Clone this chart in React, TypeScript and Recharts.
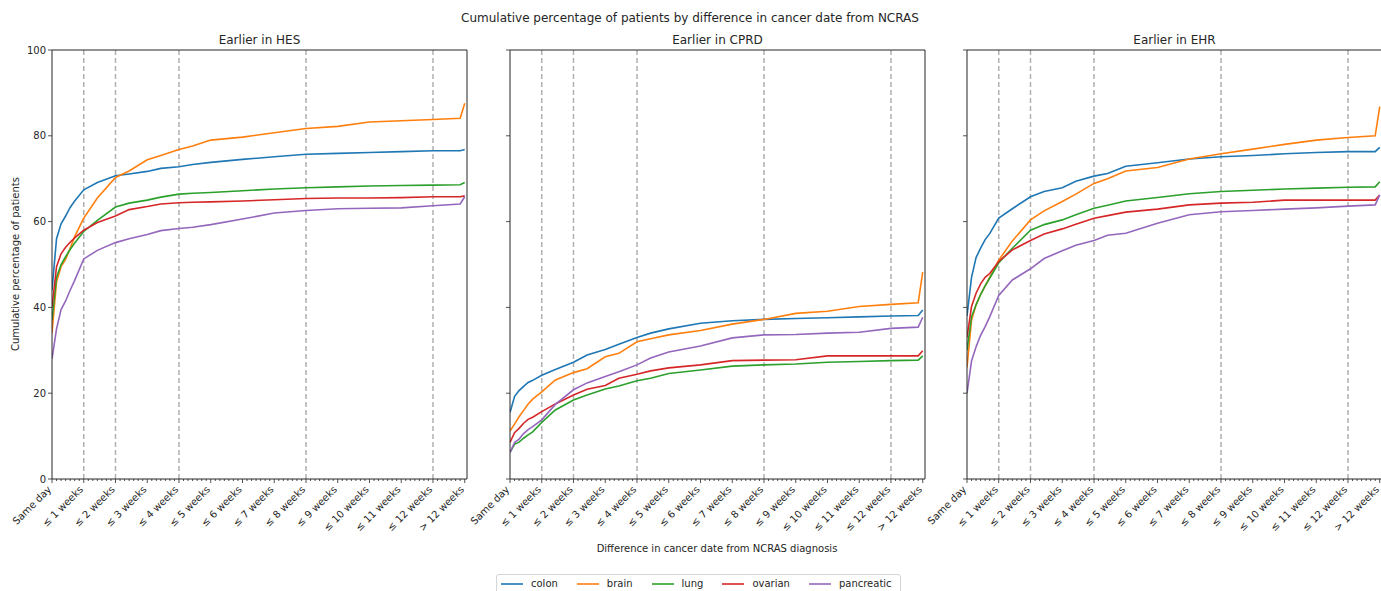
import React from 'react';
import { LineChart, Line, XAxis, YAxis, ReferenceLine } from 'recharts';

// days since NCRAS diagnosis at which the curves were read
const DAYS = [0, 1, 2, 3, 4, 5, 7, 10, 14, 17, 21, 24, 28, 31, 35, 42, 49, 56, 63, 70, 77, 84, 90, 91];

const WEEK_LABELS = [
  'Same day', '≤ 1 weeks', '≤ 2 weeks', '≤ 3 weeks', '≤ 4 weeks', '≤ 5 weeks', '≤ 6 weeks',
  '≤ 7 weeks', '≤ 8 weeks', '≤ 9 weeks', '≤ 10 weeks', '≤ 11 weeks', '≤ 12 weeks', '> 12 weeks',
];
const DASHED_DAYS = [7, 14, 28, 56, 84];
const Y_TICKS = [0, 20, 40, 60, 80, 100];
const PANEL_TITLES = ['Earlier in HES', 'Earlier in CPRD', 'Earlier in EHR'];

const CANCERS = ['colon', 'brain', 'lung', 'ovarian', 'pancreatic'];
const COLORS = ['#1f77b4', '#ff7f0e', '#2ca02c', '#d62728', '#9467bd'];

// Earlier in HES
const hesColon = [44, 56, 59.5, 61.3, 63.3, 64.8, 67.4, 69.1, 70.7, 71.1, 71.7, 72.4, 72.8, 73.3, 73.8, 74.5, 75.1, 75.7, 75.9, 76.1, 76.3, 76.5, 76.5, 76.8];
const hesBrain = [34, 46, 49.5, 51.2, 53.8, 56.5, 60.8, 65.5, 70.3, 71.8, 74.4, 75.4, 76.8, 77.6, 79.0, 79.7, 80.7, 81.7, 82.2, 83.2, 83.5, 83.8, 84.1, 87.6];
const hesLung = [37, 47, 50, 51.8, 53.5, 55, 57.7, 60.3, 63.4, 64.3, 65, 65.7, 66.4, 66.6, 66.8, 67.2, 67.6, 67.9, 68.1, 68.3, 68.4, 68.5, 68.6, 69.1];
const hesOvarian = [40, 49.5, 52.5, 54, 55.2, 56.2, 58, 59.8, 61.3, 62.8, 63.5, 64.1, 64.4, 64.5, 64.6, 64.8, 65.1, 65.4, 65.5, 65.5, 65.6, 65.8, 65.8, 66.0];
const hesPancreatic = [28, 35, 39.5, 41.5, 44, 46.3, 51.3, 53.3, 55.1, 56, 57, 57.9, 58.4, 58.7, 59.3, 60.6, 62, 62.6, 63, 63.1, 63.2, 63.7, 64.1, 65.8];

// Earlier in CPRD
const cprdColon = [15.5, 19.2, 20.6, 21.6, 22.5, 23, 24.2, 25.5, 27.2, 28.9, 30.2, 31.4, 33, 34, 35, 36.3, 36.9, 37.2, 37.4, 37.6, 37.8, 38, 38.1, 39.4];
const cprdBrain = [11.2, 12.8, 14.5, 16, 17.5, 18.6, 20.3, 23.1, 24.8, 25.7, 28.5, 29.3, 32, 32.7, 33.6, 34.6, 36.1, 37.2, 38.6, 39.1, 40.2, 40.7, 41.1, 48.2];
const cprdLung = [6.2, 8.1, 8.6, 9.5, 10.3, 11, 13.2, 16.1, 18.4, 19.6, 21, 21.7, 22.9, 23.5, 24.6, 25.4, 26.3, 26.6, 26.8, 27.2, 27.4, 27.6, 27.7, 28.7];
const cprdOvarian = [8.5, 10.8, 11.8, 13, 13.9, 14.4, 15.7, 17.5, 19.6, 20.9, 21.8, 23.5, 24.4, 25.2, 25.9, 26.6, 27.6, 27.7, 27.8, 28.7, 28.7, 28.7, 28.7, 29.9];
const cprdPancreatic = [6.2, 8.5, 9.3, 10.6, 11.5, 12.2, 13.8, 17.4, 20.8, 22.4, 23.9, 25, 26.6, 28.2, 29.6, 31, 32.9, 33.6, 33.7, 34, 34.2, 35.1, 35.4, 37.7];

// Earlier in EHR
const ehrColon = [38, 47, 51.6, 53.8, 55.8, 57.2, 60.8, 63, 65.8, 67, 67.9, 69.4, 70.6, 71.2, 72.9, 73.7, 74.6, 75.1, 75.4, 75.8, 76.1, 76.3, 76.3, 77.3];
const ehrBrain = [26, 37, 40.6, 43, 45, 47, 51, 55.5, 60.4, 62.5, 64.7, 66.4, 68.9, 70, 71.8, 72.6, 74.6, 75.8, 76.9, 78, 79, 79.6, 80, 86.8];
const ehrLung = [30, 37.8, 40.6, 43, 45, 46.8, 50.4, 53.8, 58, 59.3, 60.4, 61.6, 63.1, 63.8, 64.8, 65.6, 66.5, 67, 67.3, 67.6, 67.8, 68, 68.1, 69.3];
const ehrOvarian = [33, 40.2, 43.3, 45.5, 47, 47.9, 50.7, 53.4, 55.6, 57.1, 58.3, 59.4, 60.8, 61.4, 62.2, 62.9, 63.9, 64.3, 64.5, 65, 65, 65, 65, 66.2];
const ehrPancreatic = [20, 27.5, 30.8, 33.5, 35.5, 37.8, 42.8, 46.4, 49, 51.4, 53.2, 54.5, 55.6, 56.8, 57.3, 59.6, 61.6, 62.3, 62.6, 62.9, 63.2, 63.6, 63.9, 66.2];

const buildRows = (cols: number[][]) =>
  DAYS.map((day, i) => {
    const row: Record<string, number> = { day };
    CANCERS.forEach((c, j) => {
      row[c] = cols[j][i];
    });
    return row;
  });

const PANELS = [
  buildRows([hesColon, hesBrain, hesLung, hesOvarian, hesPancreatic]),
  buildRows([cprdColon, cprdBrain, cprdLung, cprdOvarian, cprdPancreatic]),
  buildRows([ehrColon, ehrBrain, ehrLung, ehrOvarian, ehrPancreatic]),
];

const ALL_DAY_TICKS = Array.from({ length: 92 }, (_, i) => i);
const X_MAX = 91.5;

const PLOT_LEFTS = [52, 510, 967];
const PLOT_W = 415;
const PLOT_TOP = 50;
const PLOT_BOTTOM = 479;
const ML = 45;
const MR = 6;
const CHART_H = 570;
const INK = '#262626';

const XTick = (props: any) => {
  const { x, y, payload } = props;
  const day = payload.value as number;
  const major = day % 7 === 0;
  const lx = x;
  const ly = y + 11;
  return (
    <g>
      <line x1={x} y1={y} x2={x} y2={y + (major ? 4 : 2)} stroke={INK} strokeWidth={0.8} />
      {major && (
        <text
          x={lx}
          y={ly}
          textAnchor="end"
          fontSize={10}
          fill={INK}
          transform={`rotate(-45 ${lx} ${ly})`}
        >
          {WEEK_LABELS[day / 7]}
        </text>
      )}
    </g>
  );
};

const YTick = (props: any) => {
  const { x, y, payload, showLabel } = props;
  return (
    <g>
      <line x1={x - 4} y1={y} x2={x} y2={y} stroke={INK} strokeWidth={0.8} />
      {showLabel && (
        <text x={x - 6} y={y} dy={3.5} textAnchor="end" fontSize={10} fill={INK}>
          {payload.value}
        </text>
      )}
    </g>
  );
};

const Panel = ({ rows, index }: { rows: Record<string, number>[]; index: number }) => (
  <div style={{ position: 'absolute', left: PLOT_LEFTS[index] - ML, top: 0 }}>
    <LineChart
      width={ML + PLOT_W + MR}
      height={CHART_H}
      data={rows}
      margin={{ top: 0, right: 0, left: 0, bottom: 0 }}
    >
      {DASHED_DAYS.map((d) => (
        <ReferenceLine key={d} x={d} stroke="#b0b0b0" strokeWidth={1.5} strokeDasharray="5 3" />
      ))}
      <XAxis
        dataKey="day"
        type="number"
        domain={[0, X_MAX]}
        allowDataOverflow
        ticks={ALL_DAY_TICKS}
        interval={0}
        tickLine={false}
        tickSize={0}
        tickMargin={0}
        height={CHART_H - PLOT_BOTTOM}
        axisLine={{ stroke: INK, strokeWidth: 1 }}
        tick={(p: any) => <XTick {...p} />}
      />
      <XAxis
        xAxisId="top"
        orientation="top"
        type="number"
        domain={[0, X_MAX]}
        allowDataOverflow
        tick={false}
        tickLine={false}
        height={PLOT_TOP}
        axisLine={{ stroke: INK, strokeWidth: 1 }}
      />
      <YAxis
        type="number"
        domain={[0, 100]}
        allowDataOverflow
        ticks={Y_TICKS}
        interval={0}
        tickLine={false}
        tickSize={0}
        tickMargin={0}
        width={ML}
        axisLine={{ stroke: INK, strokeWidth: 1 }}
        tick={(p: any) => <YTick {...p} showLabel={index === 0} />}
      />
      <YAxis
        yAxisId="right"
        orientation="right"
        type="number"
        domain={[0, 100]}
        allowDataOverflow
        tick={false}
        tickLine={false}
        width={MR}
        axisLine={{ stroke: INK, strokeWidth: 1 }}
      />
      {CANCERS.map((c, j) => (
        <Line
          key={c}
          type="linear"
          dataKey={c}
          stroke={COLORS[j]}
          strokeWidth={1.6}
          dot={false}
          activeDot={false}
          isAnimationActive={false}
        />
      ))}
    </LineChart>
  </div>
);

const Legend = () => (
  <div
    style={{
      position: 'absolute',
      left: 496,
      top: 574,
      height: 26,
      border: '1px solid #d5d5d5',
      borderRadius: 3,
      display: 'flex',
      alignItems: 'flex-start',
      padding: '3px 8px 0 4px',
      fontSize: 10,
      lineHeight: '12px',
      color: INK,
      background: '#fff',
    }}
  >
    {CANCERS.map((c, j) => (
      <div key={c} style={{ display: 'flex', alignItems: 'center', marginRight: j < CANCERS.length - 1 ? 19 : 0 }}>
        <svg width={22} height={12} style={{ marginRight: 8 }}>
          <line x1={0} y1={6} x2={22} y2={6} stroke={COLORS[j]} strokeWidth={1.6} />
        </svg>
        <span>{c}</span>
      </div>
    ))}
  </div>
);

export default function App() {
  return (
    <div
      style={{
        position: 'absolute',
        left: 0,
        top: 0,
        width: 1381,
        height: 591,
        overflow: 'hidden',
        background: '#fff',
        fontFamily: '"DejaVu Sans", sans-serif',
      }}
    >
      {PANELS.map((rows, i) => (
        <Panel key={i} rows={rows} index={i} />
      ))}
      <svg width={1381} height={591} style={{ position: 'absolute', left: 0, top: 0, pointerEvents: 'none' }}>
        <text x={690} y={22} textAnchor="middle" fontSize={12} fill={INK}>
          Cumulative percentage of patients by difference in cancer date from NCRAS
        </text>
        {PANEL_TITLES.map((t, i) => (
          <text key={t} x={PLOT_LEFTS[i] + PLOT_W / 2} y={44} textAnchor="middle" fontSize={12} fill={INK}>
            {t}
          </text>
        ))}
        <text x={717} y={552} textAnchor="middle" fontSize={10} fill={INK}>
          Difference in cancer date from NCRAS diagnosis
        </text>
        <text x={19} y={264} textAnchor="middle" fontSize={10} fill={INK} transform="rotate(-90 19 264)">
          Cumulative percentage of patients
        </text>
      </svg>
      <Legend />
    </div>
  );
}
